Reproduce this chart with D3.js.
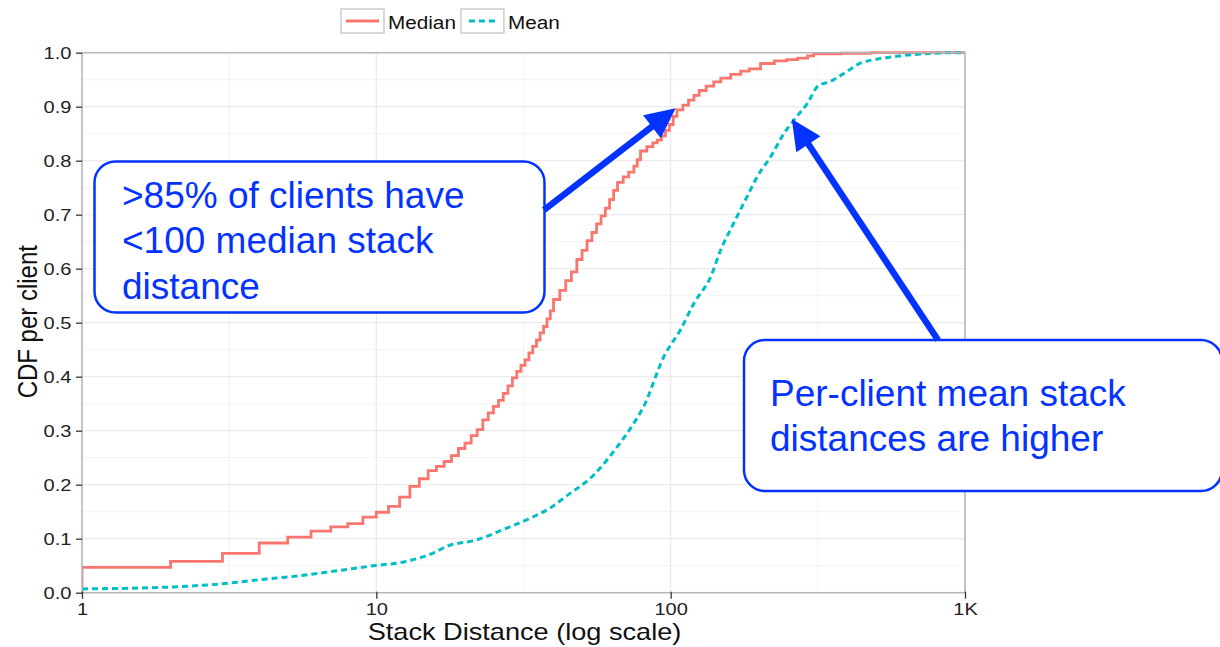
<!DOCTYPE html>
<html>
<head>
<meta charset="utf-8">
<script src="https://cdn.jsdelivr.net/npm/d3@7"></script>
<style>
  body { margin: 0; background: #fff; }
  svg { display: block; font-family: "Liberation Sans", Arial, Helvetica, sans-serif; }
</style>
</head>
<body>
<svg id="chart" width="1220" height="647"></svg>
<script>
// Per-client median stack distance: empirical CDF (distance, cumulative fraction)
const medianDistance = [1, 2, 3, 4, 5, 6, 7, 8, 9, 10, 11, 12, 13, 14, 15, 16, 17, 18, 19, 20,
  21, 22, 23, 24, 25, 26, 27, 28, 29, 30, 31, 32, 33, 34, 35, 36, 37, 38, 39, 40,
  42, 44, 46, 48, 50, 52, 54, 56, 58, 60, 62, 64, 66, 69, 72, 75, 77, 79, 83, 87,
  90, 93, 96, 99, 102, 105, 110, 115, 120, 125, 132, 140, 148, 160, 173, 185, 202, 225, 248, 270,
  292, 306, 380, 480, 1000];
const medianCdf = [0.047, 0.058, 0.073, 0.092, 0.103, 0.114, 0.122, 0.128, 0.140, 0.149, 0.160, 0.177, 0.197, 0.211, 0.226, 0.234, 0.243, 0.254, 0.267, 0.277,
  0.291, 0.302, 0.320, 0.333, 0.345, 0.356, 0.369, 0.383, 0.398, 0.410, 0.421, 0.431, 0.444, 0.456, 0.468, 0.481, 0.493, 0.507, 0.522, 0.543,
  0.560, 0.578, 0.594, 0.617, 0.634, 0.652, 0.667, 0.683, 0.698, 0.712, 0.728, 0.745, 0.760, 0.770, 0.779, 0.790, 0.802, 0.818, 0.826, 0.833,
  0.838, 0.846, 0.856, 0.867, 0.882, 0.894, 0.903, 0.912, 0.921, 0.930, 0.938, 0.946, 0.953, 0.960, 0.966, 0.970, 0.980, 0.985, 0.987, 0.990,
  0.994, 0.998, 0.999, 1.000, 1.000];

// Per-client mean stack distance: empirical CDF
const meanDistance = [1, 2, 3.2, 4, 5.4, 7, 9.8, 12.4, 15.6, 17.4, 22, 27, 33, 39, 44, 55, 66, 75, 81, 95,
  108, 120, 137, 148, 164, 182, 197, 219, 243, 263, 292, 316, 350, 389, 443, 500, 600, 780, 950, 1000];
const meanCdf = [0.007, 0.0105, 0.018, 0.024, 0.031, 0.039, 0.050, 0.057, 0.0735, 0.086, 0.098, 0.117, 0.137, 0.157, 0.178, 0.219, 0.271, 0.314, 0.345, 0.438,
  0.487, 0.536, 0.586, 0.635, 0.685, 0.734, 0.771, 0.808, 0.851, 0.876, 0.907, 0.938, 0.947, 0.962, 0.981, 0.988, 0.994, 0.999, 1.000, 1.000];

const seriesNames = ["Median", "Mean"];
const seriesColors = ["#F8766D", "#00BFC4"];

const xTickValues = [1, 10, 100, 1000];
const xTickLabels = ["1", "10", "100", "1K"];
const xMinorValues = [Math.sqrt(10), Math.sqrt(1000), Math.sqrt(100000)];
const yTickValues = [0, 0.1, 0.2, 0.3, 0.4, 0.5, 0.6, 0.7, 0.8, 0.9, 1.0];
const yMinorValues = [0.05, 0.15, 0.25, 0.35, 0.45, 0.55, 0.65, 0.75, 0.85, 0.95];

const xTitle = "Stack Distance (log scale)";
const yTitle = "CDF per client";

const noteMedian = [">85% of clients have", "<100 median stack", "distance"];
const noteMean = ["Per-client mean stack", "distances are higher"];

// ---- layout ----
const svg = d3.select("#chart");
const panelLeft = 82, panelRight = 965, panelTop = 52.7, panelBottom = 592.7;
const stretch = 1.18;   // wide sans rendering of the chart labels
const blue = "#0433ff";

const x = d3.scaleLog().domain([1, 1000]).range([panelLeft, panelRight]);
const y = d3.scaleLinear().domain([0, 1]).range([panelBottom, panelTop]);

svg.append("rect").attr("width", 1220).attr("height", 647).attr("fill", "#fff");

// grid
const grid = svg.append("g");
grid.selectAll(".ymin").data(yMinorValues).join("line")
  .attr("x1", panelLeft).attr("x2", panelRight).attr("y1", d => y(d)).attr("y2", d => y(d))
  .attr("stroke", "#f3f3f3").attr("stroke-width", 1);
grid.selectAll(".xmin").data(xMinorValues).join("line")
  .attr("y1", panelTop).attr("y2", panelBottom).attr("x1", d => x(d)).attr("x2", d => x(d))
  .attr("stroke", "#f3f3f3").attr("stroke-width", 1);
grid.selectAll(".ymaj").data(yTickValues).join("line")
  .attr("x1", panelLeft).attr("x2", panelRight).attr("y1", d => y(d)).attr("y2", d => y(d))
  .attr("stroke", "#ebebeb").attr("stroke-width", 1.3);
grid.selectAll(".xmaj").data(xTickValues).join("line")
  .attr("y1", panelTop).attr("y2", panelBottom).attr("x1", d => x(d)).attr("x2", d => x(d))
  .attr("stroke", "#ebebeb").attr("stroke-width", 1.3);

// clip to panel
svg.append("clipPath").attr("id", "panel")
  .append("rect").attr("x", panelLeft).attr("y", panelTop - 3)
  .attr("width", panelRight - panelLeft).attr("height", panelBottom - panelTop + 3);

const plot = svg.append("g").attr("clip-path", "url(#panel)");

// median series: step ECDF rising from zero at the first distance
const medianPts = [[medianDistance[0], 0]].concat(medianDistance.map((d, i) => [d, medianCdf[i]]));
const stepLine = d3.line().x(d => x(d[0])).y(d => y(d[1])).curve(d3.curveStepAfter);
plot.append("path").datum(medianPts)
  .attr("d", stepLine)
  .attr("fill", "none").attr("stroke", seriesColors[0]).attr("stroke-width", 2.8);

// mean series
const meanPts = meanDistance.map((d, i) => [d, meanCdf[i]]);
const smoothLine = d3.line().x(d => x(d[0])).y(d => y(d[1])).curve(d3.curveMonotoneX);
plot.append("path").datum(meanPts)
  .attr("d", smoothLine)
  .attr("fill", "none").attr("stroke", seriesColors[1]).attr("stroke-width", 3)
  .attr("stroke-dasharray", "6,4");

// panel border
svg.append("rect").attr("x", panelLeft).attr("y", panelTop)
  .attr("width", panelRight - panelLeft).attr("height", panelBottom - panelTop)
  .attr("fill", "none").attr("stroke", "#b5b5b5").attr("stroke-width", 1.5);

// axes
const yAxis = svg.append("g").attr("transform", `translate(${panelLeft},0)`)
  .call(d3.axisLeft(y).tickValues(yTickValues).tickFormat(d3.format(".1f")).tickSize(6).tickPadding(3));
const xAxis = svg.append("g").attr("transform", `translate(0,${panelBottom})`)
  .call(d3.axisBottom(x).tickValues(xTickValues).tickFormat((d, i) => xTickLabels[i]).tickSize(6).tickPadding(4));

[yAxis, xAxis].forEach(g => {
  g.select(".domain").remove();
  g.selectAll(".tick line").attr("stroke", "#333").attr("stroke-width", 1.3);
  g.selectAll(".tick text")
    .attr("fill", "#222").attr("font-size", 17)
    .attr("font-family", "Liberation Sans, Arial, sans-serif")
    .attr("transform", `scale(${stretch},1)`);
});
xAxis.selectAll(".tick line").attr("y1", -1);

// axis titles
svg.append("text")
  .attr("transform", `translate(${(panelLeft + panelRight) / 2 + 1},640) scale(${stretch},1)`)
  .attr("text-anchor", "middle").attr("font-size", 23).attr("fill", "#111")
  .text(xTitle);
svg.append("text")
  .attr("transform", `translate(37,${(panelTop + panelBottom) / 2 - 1}) scale(1.12,1) rotate(-90)`)
  .attr("text-anchor", "middle").attr("font-size", 24).attr("fill", "#111")
  .text(yTitle);

// legend
const legend = svg.append("g");
let lx = 341;
seriesNames.forEach((name, i) => {
  const item = legend.append("g").attr("transform", `translate(${lx},9)`);
  item.append("rect").attr("x", 0).attr("y", 0).attr("width", 43).attr("height", 24)
    .attr("fill", "#fff").attr("stroke", "#cfcfcf").attr("stroke-width", 1.6);
  const key = item.append("line").attr("x1", 5).attr("x2", 38).attr("y1", 12).attr("y2", 12)
    .attr("stroke", seriesColors[i]).attr("stroke-width", 3);
  if (i === 1) key.attr("stroke-dasharray", "6,4").attr("x1", 8);
  const t = item.append("text")
    .attr("transform", `translate(47,19.5) scale(1.12,1)`)
    .attr("font-size", 18.5).attr("fill", "#111").text(name);
  lx += 47 + t.node().getComputedTextLength() * 1.12 + 5;
});

// annotations
function arrow(x0, y0, x1, y1) {
  const dx = x1 - x0, dy = y1 - y0, len = Math.hypot(dx, dy);
  const ux = dx / len, uy = dy / len, px = -uy, py = ux;
  const headLen = 30, headHalf = 14.5;
  const bx = x1 - ux * headLen, by = y1 - uy * headLen;
  svg.append("line").attr("x1", x0).attr("y1", y0).attr("x2", bx + ux * 2).attr("y2", by + uy * 2)
    .attr("stroke", blue).attr("stroke-width", 6.5);
  svg.append("polygon")
    .attr("points", [[x1, y1], [bx + px * headHalf, by + py * headHalf], [bx - px * headHalf, by - py * headHalf]].map(p => p.join(",")).join(" "))
    .attr("fill", blue);
}

function note(bx, by, bw, bh, lines, tx, ty0) {
  svg.append("rect").attr("x", bx).attr("y", by).attr("width", bw).attr("height", bh)
    .attr("rx", 21).attr("ry", 21)
    .attr("fill", "#fff").attr("stroke", blue).attr("stroke-width", 2.5);
  svg.append("g").selectAll("text").data(lines).join("text")
    .attr("x", tx).attr("y", (d, i) => ty0 + i * 45.3)
    .attr("font-size", 37).attr("fill", blue)
    .attr("font-family", "Liberation Sans, Arial, sans-serif")
    .text(d => d);
}

note(94.5, 161.5, 450, 151, noteMedian, 122, 208);
arrow(544, 210, x(104), y(0.897));

note(744, 340, 478, 151, noteMean, 770, 406);
arrow(938, 340, x(258), y(0.877));
</script>
</body>
</html>
